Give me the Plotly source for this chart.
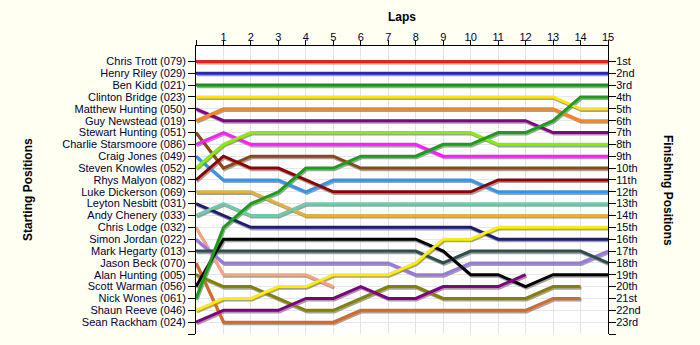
import plotly.graph_objects as go

laps = list(range(16))
lap_labels = ["", "1", "2", "3", "4", "5", "6", "7", "8", "9", "10", "11", "12", "13", "14", "15"]

start_names = ["Chris Trott (079)", "Henry Riley (029)", "Ben Kidd (021)", "Clinton Bridge (023)",
               "Matthew Hunting (050)", "Guy Newstead (019)", "Stewart Hunting (051)",
               "Charlie Starsmoore (086)", "Craig Jones (049)", "Steven Knowles (052)",
               "Rhys Malyon (082)", "Luke Dickerson (069)", "Leyton Nesbitt (031)",
               "Andy Chenery (033)", "Chris Lodge (032)", "Simon Jordan (022)",
               "Mark Hegarty (013)", "Jason Beck (070)", "Alan Hunting (005)",
               "Scott Warman (056)", "Nick Wones (061)", "Shaun Reeve (046)", "Sean Rackham (024)"]
finish_labels = ["1st", "2nd", "3rd", "4th", "5th", "6th", "7th", "8th", "9th", "10th", "11th",
                 "12th", "13th", "14th", "15th", "16th", "17th", "18th", "19th", "20th", "21st",
                 "22nd", "23rd"]

trott = [1, 1, 1, 1, 1, 1, 1, 1, 1, 1, 1, 1, 1, 1, 1, 1]
riley = [2, 2, 2, 2, 2, 2, 2, 2, 2, 2, 2, 2, 2, 2, 2, 2]
kidd = [3, 3, 3, 3, 3, 3, 3, 3, 3, 3, 3, 3, 3, 3, 3, 3]
bridge = [4, 4, 4, 4, 4, 4, 4, 4, 4, 4, 4, 4, 4, 4, 5, 5]
m_hunting = [5, 6, 6, 6, 6, 6, 6, 6, 6, 6, 6, 6, 6, 7, 7, 7]
newstead = [6, 5, 5, 5, 5, 5, 5, 5, 5, 5, 5, 5, 5, 5, 6, 6]
s_hunting = [7, 10, 9, 9, 9, 9, 10, 10, 10, 10, 10, 10, 10, 10, 10, 10]
starsmoore = [8, 7, 8, 8, 8, 8, 8, 8, 8, 9, 9, 9, 9, 9, 9, 9]
jones = [9, 11, 11, 11, 12, 11, 11, 11, 11, 11, 11, 12, 12, 12, 12, 12]
knowles = [10, 8, 7, 7, 7, 7, 7, 7, 7, 7, 7, 8, 8, 8, 8, 8]
malyon = [11, 9, 10, 10, 11, 12, 12, 12, 12, 12, 12, 11, 11, 11, 11, 11]
dickerson = [12, 12, 12, 13, 14, 14, 14, 14, 14, 14, 14, 14, 14, 14, 14, 14]
nesbitt = [13, 14, 15, 15, 15, 15, 15, 15, 15, 15, 15, 16, 16, 16, 16, 16]
chenery = [14, 13, 14, 14, 13, 13, 13, 13, 13, 13, 13, 13, 13, 13, 13, 13]
lodge = [15, 19, 19, 19, 19, 20, None, None, None, None, None, None, None, None, None, None]
jordan = [16, 18, 18, 18, 18, 18, 18, 18, 19, 19, 18, 18, 18, 18, 18, 17]
hegarty = [17, 17, 17, 17, 17, 17, 17, 17, 17, 18, 17, 17, 17, 17, 17, 18]
beck = [18, 23, 23, 23, 23, 23, 22, 22, 22, 22, 22, 22, 22, 21, 21, None]
a_hunting = [19, 20, 20, 21, 22, 22, 21, 20, 20, 21, 21, 21, 21, 20, 20, None]
warman = [20, 16, 16, 16, 16, 16, 16, 16, 16, 17, 19, 19, 20, 19, 19, 19]
wones = [21, 15, 13, 12, 10, 10, 9, 9, 9, 8, 8, 7, 7, 6, 4, 4]
reeve = [22, 21, 21, 20, 20, 19, 19, 19, 18, 16, 16, 15, 15, 15, 15, 15]
rackham = [23, 22, 22, 22, 21, 21, 20, 21, 21, 20, 20, 20, 19, None, None, None]

series = [trott, riley, kidd, bridge, m_hunting, newstead, s_hunting, starsmoore, jones, knowles,
          malyon, dickerson, nesbitt, chenery, lodge, jordan, hegarty, beck, a_hunting, warman,
          wones, reeve, rackham]
colors = ["#E02424", "#2424C8", "#109A10", "#FFE600", "#840084", "#FF8418", "#8A4A14",
          "#FF1EFF", "#3394EE", "#84F000", "#900000", "#E2B23A", "#1E1E70", "#6CCCAA",
          "#FFA080", "#9A78E0", "#2E4E4E", "#D46A26", "#848000", "#000000", "#18A018",
          "#FFEE00", "#800080"]

W, H = 700, 345
ml, mr, mt, mb = 196, 92, 46, 11
pw, ph = W - ml - mr, H - mt - mb
xr = [0, 15]
yr = [24, -0.3]
kx = pw / (xr[1] - xr[0])
ky = ph / (yr[0] - yr[1])
dx, dy = 1.0, 1.6  # shadow offset in px
xr_sh = [xr[0] - dx / kx, xr[1] - dx / kx]
yr_sh = [yr[0] - dy / ky, yr[1] - dy / ky]

fig = go.Figure()
# shadows on base axes
for s in series:
    fig.add_trace(go.Scatter(x=laps, y=s, mode="lines", xaxis="x", yaxis="y",
                             line=dict(color="rgba(130,130,130,0.75)", width=3),
                             hoverinfo="skip", showlegend=False))
for s, c, n in zip(series, colors, start_names):
    fig.add_trace(go.Scatter(x=laps, y=s, mode="lines", xaxis="x2", yaxis="y2",
                             line=dict(color=c, width=3), name=n, showlegend=False))

tick_font = dict(family="Liberation Sans, Arial, sans-serif", size=11, color="#000033")
fig.update_layout(
    width=W, height=H,
    margin=dict(l=ml, r=mr, t=mt, b=mb),
    paper_bgcolor="#FFFFF2", plot_bgcolor="#FFFFFF",
    showlegend=False,
    xaxis=dict(range=xr_sh, visible=False, showgrid=False, zeroline=False),
    yaxis=dict(range=yr_sh, visible=False, showgrid=False, zeroline=False),
    xaxis2=dict(range=xr, overlaying="x", side="top", anchor="y2",
                tickvals=laps, ticktext=lap_labels, ticks="outside", ticklen=5,
                tickcolor="#000000", showline=True, linecolor="#000000", linewidth=1,
                showgrid=True, gridcolor="#E4E4E4", gridwidth=1, zeroline=False,
                tickfont=tick_font, ticklabelstandoff=-5),
    yaxis2=dict(range=yr, overlaying="y", side="left", anchor="x2",
                tickvals=list(range(1, 25)), ticktext=start_names + [""],
                ticks="outside", ticklen=7, tickcolor="#000000",
                showline=True, linecolor="#000000", linewidth=1,
                showgrid=True, gridcolor="#E8E8E8", gridwidth=1, zeroline=False,
                tickfont=tick_font),
    yaxis3=dict(range=yr, overlaying="y", side="right", anchor="x2",
                tickvals=list(range(1, 25)), ticktext=finish_labels + [""],
                ticks="outside", ticklen=7, tickcolor="#000000",
                showline=True, linecolor="#000000", linewidth=1,
                showgrid=False, zeroline=False, tickfont=tick_font,
                ticklabelstandoff=-2),
)
# dummy trace to activate yaxis3
fig.add_trace(go.Scatter(x=[None], y=[None], xaxis="x2", yaxis="y3", showlegend=False,
                         hoverinfo="skip"))

title_font = dict(family="Liberation Sans, Arial, sans-serif", size=12, color="#000000")
fig.add_annotation(text="<b>Laps</b>", xref="paper", yref="paper", x=0.5,
                   y=1 + (mt - 17) / ph, showarrow=False, font=title_font,
                   xanchor="center", yanchor="middle")
fig.add_annotation(text="<b>Starting Positions</b>", xref="paper", yref="paper",
                   x=(28 - ml) / pw, y=0.5, textangle=-90, showarrow=False, font=title_font,
                   xanchor="center", yanchor="middle")
fig.add_annotation(text="<b>Finishing Positions</b>", xref="paper", yref="paper",
                   x=(668 - ml) / pw, y=0.5, textangle=90, showarrow=False, font=title_font,
                   xanchor="center", yanchor="middle")

fig.write_html("out.html")
